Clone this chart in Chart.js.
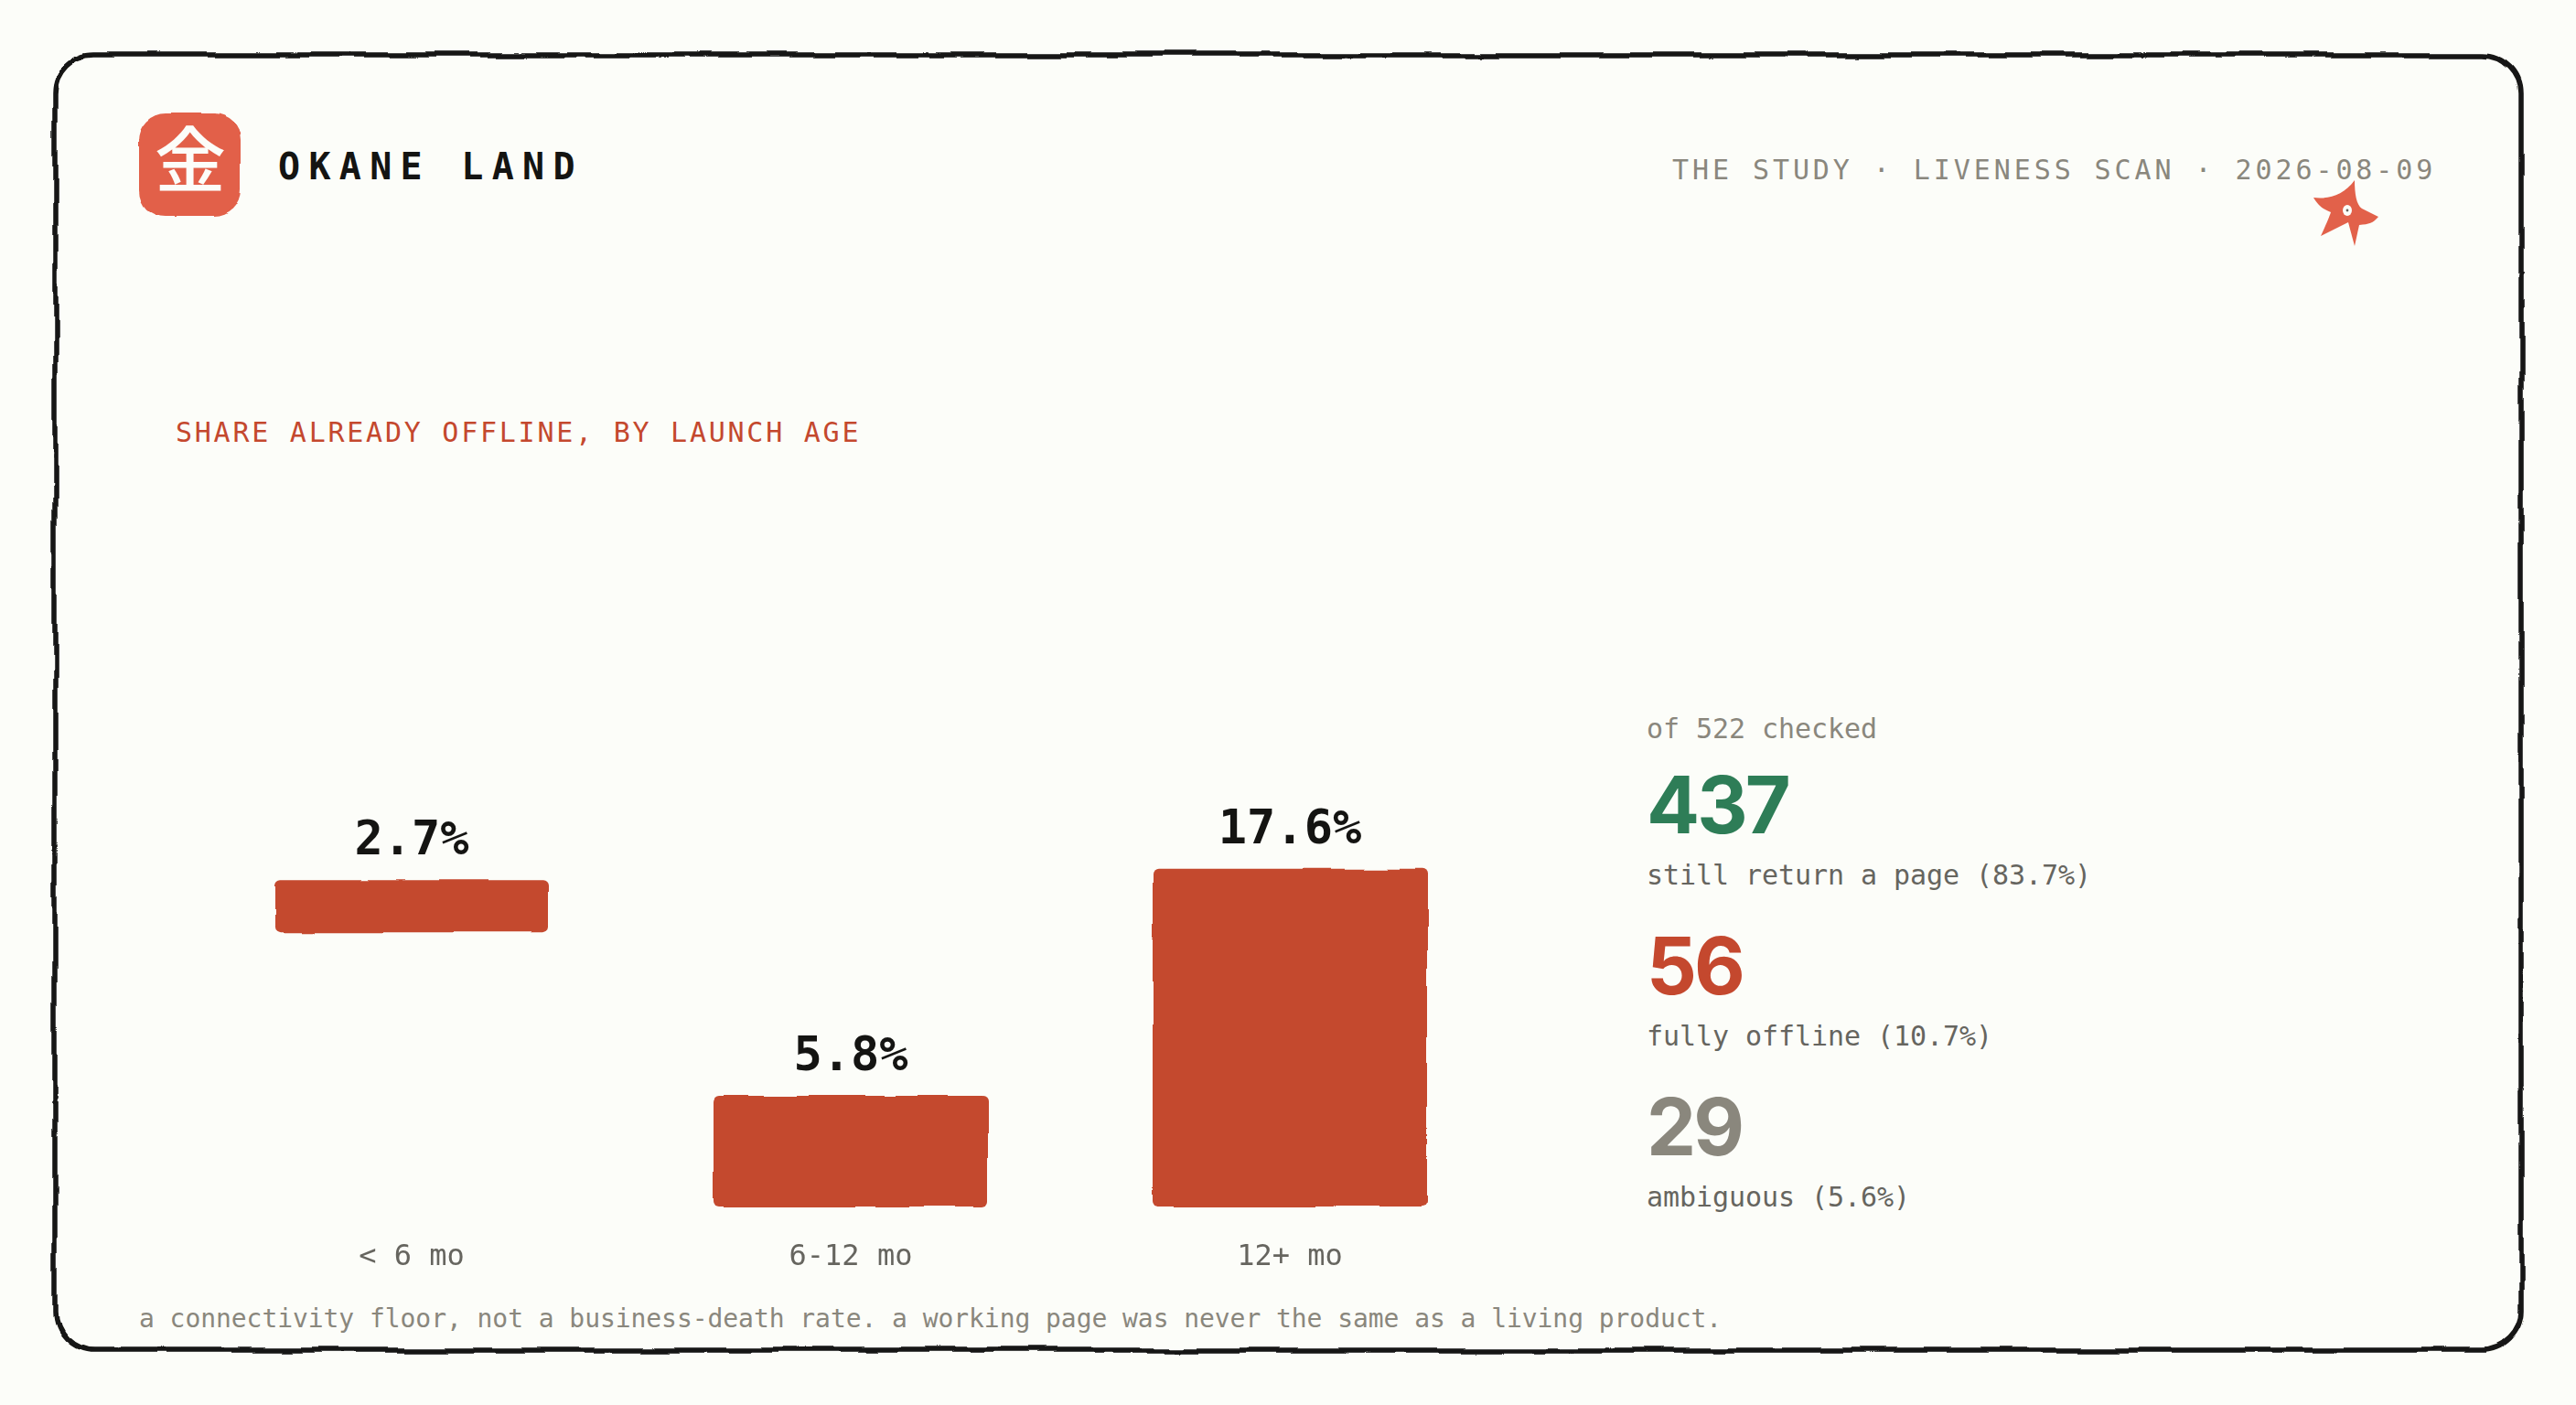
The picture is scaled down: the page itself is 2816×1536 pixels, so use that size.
<!DOCTYPE html>
<html>
<head>
<meta charset="utf-8">
<title>Okane Land - liveness scan</title>
<script src="https://cdn.jsdelivr.net/npm/chart.js@4/dist/chart.umd.min.js"></script>
<style>
    html, body { margin: 0; padding: 0; background: #fcfdf9; }
    #page { position: relative; width: 2816px; height: 1536px; overflow: hidden; }
    #overlay { position: absolute; left: 0; top: 0; }
    #chart { position: absolute; left: 210px; top: 794px; }
    .mono { font-family: "DejaVu Sans Mono", monospace; }
    .big { font-family: "Inter", sans-serif; font-weight: 700; font-size: 86px; letter-spacing: -3px; }
    .note { font-size: 30px; letter-spacing: -0.06px; fill: #66655f; }
</style>
</head>
<body>
<div id="page">
    <svg id="overlay" width="2816" height="1536" xmlns="http://www.w3.org/2000/svg">
        <defs>
            <filter id="rough" x="-5%" y="-5%" width="110%" height="110%">
                <feTurbulence type="fractalNoise" baseFrequency="0.012" numOctaves="3" seed="4"/>
                <feDisplacementMap in="SourceGraphic" scale="9" xChannelSelector="R" yChannelSelector="G"/>
            </filter>
            <filter id="roughBar" x="-5%" y="-5%" width="110%" height="110%" filterUnits="userSpaceOnUse">
                <feTurbulence type="fractalNoise" baseFrequency="0.012" numOctaves="2" seed="7"/>
                <feDisplacementMap in="SourceGraphic" scale="6" xChannelSelector="R" yChannelSelector="G"/>
            </filter>
        </defs>

        <!-- hand drawn frame -->
        <rect x="60" y="60" width="2696" height="1416" rx="42" fill="none" stroke="#141412" stroke-width="5.5" filter="url(#rough)"/>

        <!-- header -->
        <rect x="152" y="124" width="112" height="112" rx="30" fill="#e2614a" filter="url(#rough)"/>
        <text x="208" y="204" text-anchor="middle" font-family="Noto Sans CJK JP" font-weight="500" font-size="78" fill="#fcfdf9">金</text>
        <text class="mono" x="304" y="196" font-size="40" font-weight="700" letter-spacing="9.3" fill="#141412">OKANE LAND</text>
        <text class="mono" x="1828" y="196" font-size="30" letter-spacing="3.92" fill="#8a877d">THE STUDY · LIVENESS SCAN · 2026-08-09</text>

        <!-- little star mark -->
        <path d="M2574 197 C2574 212 2576 224 2582 228 L2600 237 C2594 244 2590 245 2579 246 L2574 269 C2571 258 2569 250 2567 243 L2537 258 C2543 245 2546 238 2548 232 C2538 228 2534 224 2529 216 C2544 218 2562 214 2574 197 Z" fill="#e2614a"/>
        <ellipse cx="2566" cy="230" rx="5" ry="6" fill="#fcfdf9"/>
        <circle cx="2566" cy="230" r="1.4" fill="#66655f"/>

        <text class="mono" x="192" y="483" font-size="30" letter-spacing="2.75" fill="#c4482e">SHARE ALREADY OFFLINE, BY LAUNCH AGE</text>

        <g id="summary"></g>

        <text class="mono" x="152" y="1451" font-size="28" letter-spacing="-0.06" fill="#8a877d">a connectivity floor, not a business-death rate. a working page was never the same as a living product.</text>
    </svg>
    <canvas id="chart" width="1440" height="626"></canvas>
</div>

<script>
/* ==========================================================================
   Data
   ========================================================================== */

const ageLabels = ['< 6 mo', '6-12 mo', '12+ mo'];
const offlineShare = [2.7, 5.8, 17.6];
// The first bar floats above the axis in the reference
const barStart = [14.3, 0, 0];

const checkedNote = 'of 522 checked';
const statCounts = ['437', '56', '29'];
const statNotes = ['still return a page (83.7%)', 'fully offline (10.7%)', 'ambiguous (5.6%)'];
const statColors = ['#2e7d57', '#c4482e', '#8a877d'];

const MONO = '"DejaVu Sans Mono", monospace';

/* ==========================================================================
   Side summary
   ========================================================================== */

function addText(parent, x, y, text, cls, fill) {
    const el = document.createElementNS('http://www.w3.org/2000/svg', 'text');
    el.setAttribute('x', x);
    el.setAttribute('y', y);
    if (cls) el.setAttribute('class', cls);
    if (fill) el.setAttribute('style', `fill:${fill}`);
    el.textContent = text;
    parent.appendChild(el);
}

const summary = document.getElementById('summary');
addText(summary, 1800, 807, checkedNote, 'mono note', '#8a877d');
statCounts.forEach((count, i) => {
    addText(summary, 1800, 911 + i * 176, count, 'big', statColors[i]);
    addText(summary, 1800, 967 + i * 176, statNotes[i], 'mono note');
});

/* ==========================================================================
   Plugins
   ========================================================================== */

// Wobble only the bars, the labels stay clean
const roughBars = {
    id: 'roughBars',
    beforeDatasetDraw(chart) { chart.ctx.save(); chart.ctx.filter = 'url(#roughBar)'; },
    afterDatasetDraw(chart) { chart.ctx.restore(); }
};

const valueLabels = {
    id: 'valueLabels',
    afterDatasetsDraw(chart) {
        const ctx = chart.ctx;
        ctx.save();
        ctx.font = `700 52px ${MONO}`;
        ctx.fillStyle = '#141412';
        ctx.textAlign = 'center';
        ctx.textBaseline = 'alphabetic';
        chart.getDatasetMeta(0).data.forEach((bar, i) => {
            ctx.fillText(`${offlineShare[i]}%`, bar.x, bar.y - 28);
        });
        ctx.restore();
    }
};

/* ==========================================================================
   Chart
   ========================================================================== */

new Chart(document.getElementById('chart').getContext('2d'), {
    type: 'bar',
    data: {
        labels: ageLabels,
        datasets: [{
            data: offlineShare.map((v, i) => [barStart[i], barStart[i] + v]),
            backgroundColor: '#c4482e',
            borderSkipped: false,
            borderRadius: 6,
            barPercentage: 0.625,
            categoryPercentage: 1
        }]
    },
    options: {
        responsive: false,
        animation: false,
        devicePixelRatio: 1,
        layout: { padding: 0 },
        plugins: { legend: { display: false }, tooltip: { enabled: false } },
        scales: {
            y: { display: false, min: 0, max: 25 },
            x: {
                afterFit(scale) { scale.height = 100; },
                grid: { display: false },
                border: { display: false },
                ticks: { color: '#66655f', font: { family: MONO, size: 32 }, padding: 27, maxRotation: 0 }
            }
        }
    },
    plugins: [roughBars, valueLabels]
});
</script>
</body>
</html>
